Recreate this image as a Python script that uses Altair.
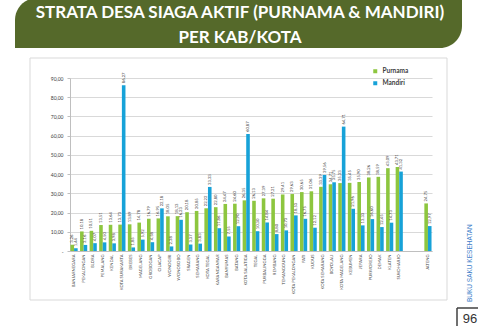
import altair as alt
import pandas as pd

categories = ["BANJARNEGARA", "PEKALONGAN", "BLORA", "PEMALANG", "KENDAL", "KOTA SURAKARTA",
              "BREBES", "MAGELANG", "GROBOGAN", "CILACAP", "WONOGIRI", "WONOSOBO", "SRAGEN",
              "SEMARANG", "KOTA TEGAL", "KARANGANYAR", "BANYUMAS", "BATANG", "KOTA SALATIGA",
              "TEGAL", "PURBALINGGA", "REMBANG", "TEMANGGUNG", "KOTA PEKALONGAN", "PATI", "KUDUS",
              "KOTA SEMARANG", "BOYOLALI", "KOTA MAGELANG", "KEBUMEN", "JEPARA", "PURWOREJO",
              "DEMAK", "KLATEN", "SUKOHARJO", "JATENG"]
purnama = [3.26, 10.18, 10.51, 13.51, 13.64, 13.73, 13.89, 14.78, 16.79, 16.95, 18.05, 18.13,
           20.18, 20.85, 22.22, 22.80, 24.47, 24.60, 26.35, 26.13, 27.39, 27.21, 29.41, 29.63,
           30.65, 31.06, 33.39, 34.71, 35.33, 35.45, 35.90, 38.26, 38.59, 43.09, 43.71, 24.75]
mandiri = [1.44, 3.16, 4.07, 4.50, 3.98, 86.27, 1.85, 5.92, 4.58, 22.18, 2.38, 16.23,
           3.37, 3.83, 33.33, 11.86, 7.55, 12.90, 60.87, 10.30, 14.84, 8.80, 10.73, 18.53,
           16.75, 12.12, 39.56, 35.75, 64.71, 21.96, 13.33, 16.60, 12.45, 14.73, 41.32, 12.97]
series = ["Purnama", "Mandiri"]
colors = ["#8DC63F", "#17A2D8"]
y_ticks = [0, 10, 20, 30, 40, 50, 60, 70, 80, 90]
title_lines = ["STRATA DESA SIAGA AKTIF (PURNAMA & MANDIRI)", "PER KAB/KOTA"]

rows = []
for i, c in enumerate(categories):
    rows.append({"kab": c, "strata": "Purnama", "nilai": purnama[i]})
    rows.append({"kab": c, "strata": "Mandiri", "nilai": mandiri[i]})
df = pd.DataFrame(rows)

x_domain = categories[:-1] + [" ", "  "] + [categories[-1]]

x_enc = alt.X("kab:N", sort=x_domain,
              scale=alt.Scale(domain=x_domain, paddingInner=0.25, paddingOuter=0.05),
              axis=alt.Axis(title=None, labelAngle=270, labelFontSize=4.2, labelFont="Lato",
                            labelColor="#404040", ticks=False, domainColor="#bfbfbf",
                            labelPadding=3, labelLimit=0))
y_enc = alt.Y("nilai:Q", scale=alt.Scale(domain=[0, 90], nice=False),
              axis=alt.Axis(title=None, values=y_ticks,
                            labelExpr="datum.value == 0 ? '-' : replace(format(datum.value, '.2f'), '.', ',')",
                            labelFontSize=5, labelFont="Lato", labelColor="#404040",
                            gridColor="#d9d9d9", domainColor="#bfbfbf", tickColor="#bfbfbf",
                            tickSize=3, labelPadding=4))
xoff = alt.XOffset("strata:N", sort=series, scale=alt.Scale(domain=series, paddingInner=0))

base = alt.Chart(df)
bars = base.mark_bar().encode(
    x=x_enc, y=y_enc, xOffset=xoff,
    color=alt.Color("strata:N", sort=series, scale=alt.Scale(domain=series, range=colors),
                    legend=alt.Legend(title=None, orient="none", legendX=302, legendY=-10,
                                      symbolType="square", symbolSize=16, labelFontSize=6.5,
                                      labelFontWeight="bold", labelFont="Lato",
                                      labelColor="#404040", rowPadding=5, symbolStrokeWidth=0)))
labels = base.mark_text(angle=270, align="left", baseline="middle", dx=2, fontSize=4.2,
                        font="Lato", color="#404040").encode(
    x=x_enc, y=y_enc, xOffset=xoff, text="lbl:N"
).transform_calculate(lbl="replace(format(datum.nilai, '.2f'), '.', ',')")

one = alt.Data(values=[{"a": 1}])
frame = alt.Chart(one).mark_rect(fill="transparent", stroke="#d9d9d9", strokeWidth=1).encode(
    x=alt.value(-40), x2=alt.value(377), y=alt.value(-20), y2=alt.value(222))
banner = alt.Chart(one).mark_rect(color="#55692A", cornerRadiusTopLeft=22,
                                  cornerRadiusBottomRight=22).encode(
    x=alt.value(-55), x2=alt.value(392), y=alt.value(-80), y2=alt.value(-30))
t1 = alt.Chart(one).mark_text(text=title_lines[0], font="Lato", fontWeight="bold", fontSize=17,
                              color="white", align="center", baseline="alphabetic").encode(
    x=alt.value(170), y=alt.value(-60))
t2 = alt.Chart(one).mark_text(text=title_lines[1], font="Lato", fontWeight="bold", fontSize=17,
                              color="white", align="center", baseline="alphabetic").encode(
    x=alt.value(170), y=alt.value(-35))
side = alt.Chart(one).mark_text(text="BUKU SAKU KESEHATAN", font="Liberation Sans", fontSize=6.5,
                                color="#3A7DC9", angle=270, align="left", baseline="middle").encode(
    x=alt.value(400), y=alt.value(224))
page = alt.Chart(one).mark_text(text="96", font="Liberation Sans", fontSize=13, color="#333333",
                                align="center", baseline="alphabetic").encode(
    x=alt.value(400), y=alt.value(245))
br_v = alt.Chart(one).mark_rule(color="#404040", strokeWidth=1.5).encode(
    x=alt.value(387), y=alt.value(230), y2=alt.value(250))
br_h = alt.Chart(one).mark_rule(color="#404040", strokeWidth=1.5).encode(
    x=alt.value(387), x2=alt.value(408), y=alt.value(230))

chart = alt.layer(frame, banner, t1, t2, side, page, br_v, br_h, bars, labels).properties(
    width=362, height=173,
    autosize=alt.AutoSizeParams(type="none"),
    padding={"left": 70, "top": 78, "right": 48, "bottom": 75},
    background="white"
).configure_view(stroke="transparent")

chart.save("out.html", embed_options={"renderer": "svg", "actions": False})
